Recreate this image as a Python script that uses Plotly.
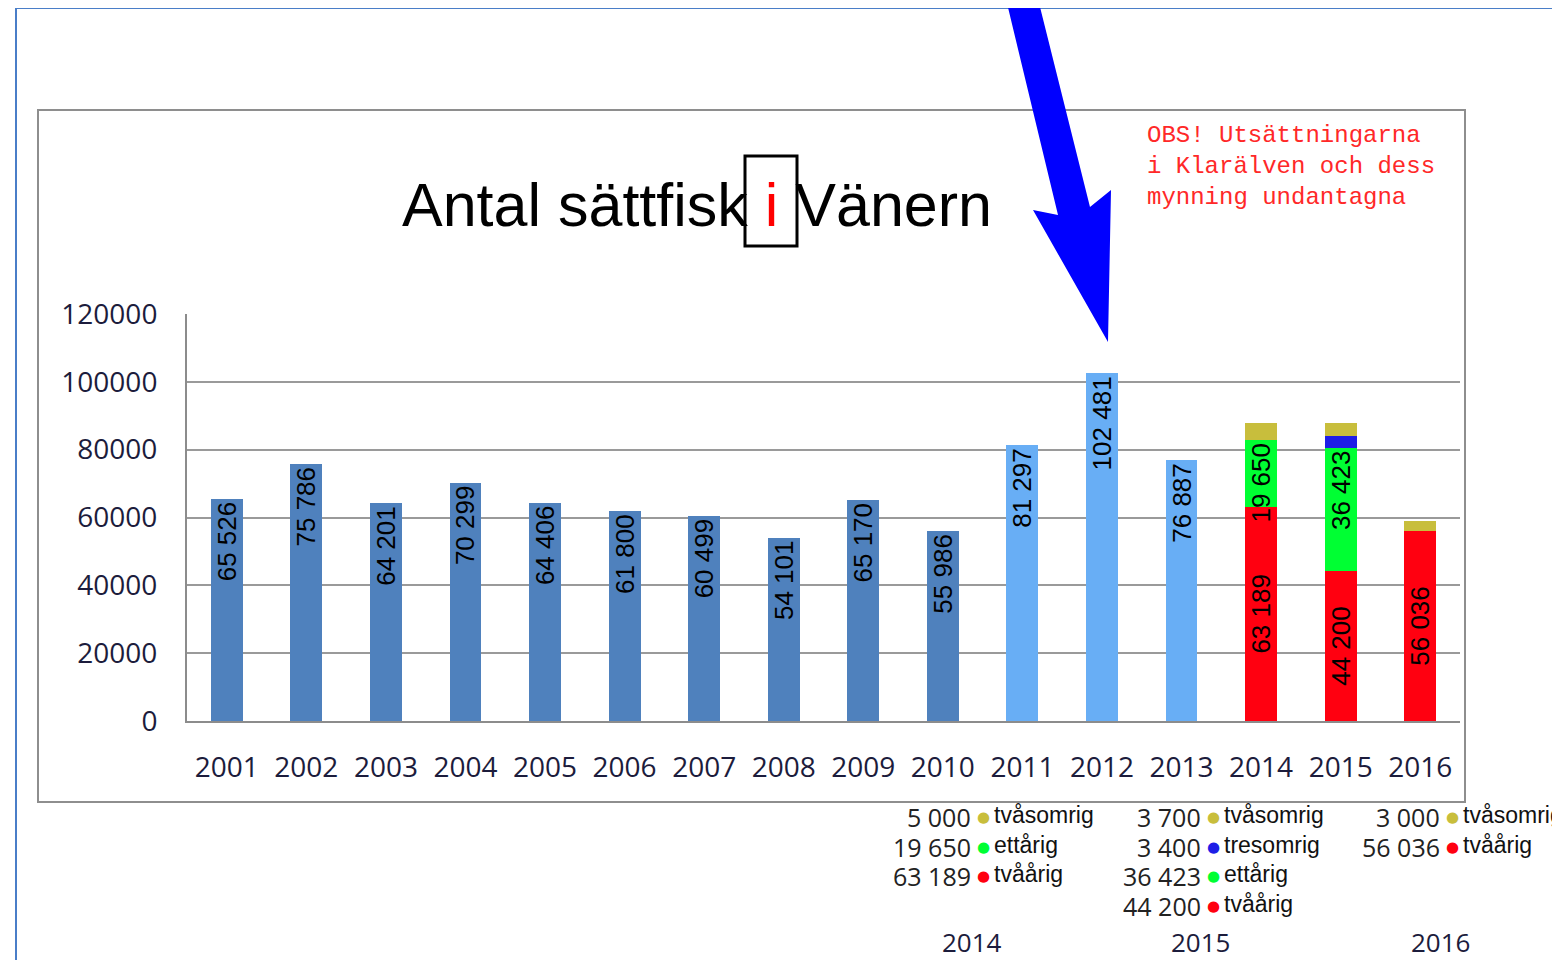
import plotly.graph_objects as go

# ---------------- data ----------------
years = ["2001", "2002", "2003", "2004", "2005", "2006", "2007", "2008",
         "2009", "2010", "2011", "2012", "2013", "2014", "2015", "2016"]
base_years = years[:13]
base_values = [65526, 75786, 64201, 70299, 64406, 61800, 60499, 54101,
               65170, 55986, 81297, 102481, 76887]
stack_years = ["2014", "2015", "2016"]
tvaarig = [63189, 44200, 56036]
ettarig = [19650, 36423, None]
tresomrig = [None, 3400, None]
tvasomrig = [5000, 3700, 3000]
y_ticks = [0, 20000, 40000, 60000, 80000, 100000, 120000]
title_before, title_mid, title_after = "Antal sättfisk", "i", "Vänern"
note_lines = ["OBS! Utsättningarna", "i Klarälven och dess", "mynning undantagna"]

# ---------------- styles ----------------
OFF = 8                      # page body margin
W, H = 1560 - OFF, 960 - OFF
DARK = "#4F81BD"
LIGHT = "#68AEF5"
RED = "#FF0010"
GREEN = "#00FF33"
BLUE = "#1E1EE6"
OLIVE = "#C8BE3C"
FONT = "Open Sans"


def px(x):
    return (x - OFF) / W


def py(y):
    return 1 - (y - OFF) / H


def fmt(v):
    return f"{v:,}".replace(",", " ")


fig = go.Figure()

base_colors = [DARK if int(y) <= 2010 else LIGHT for y in base_years]
fig.add_trace(go.Bar(
    x=base_years, y=base_values, marker=dict(color=base_colors, line_width=0),
    text=[fmt(v) for v in base_values], textposition="inside",
    insidetextanchor="end", textangle=-90, constraintext="none",
    insidetextfont=dict(family="Liberation Sans", size=26, color="black"),
    showlegend=False, name="Antal"))

series = [
    ("tvåårig", tvaarig, RED, "middle"),
    ("ettårig", ettarig, GREEN, "end"),
    ("tresomrig", tresomrig, BLUE, None),
    ("tvåsomrig", tvasomrig, OLIVE, None),
]
for name, vals, col, anchor in series:
    fig.add_trace(go.Bar(
        x=stack_years, y=vals, name=name, marker=dict(color=col, line_width=0),
        text=[fmt(v) if (v is not None and anchor) else "" for v in vals],
        textposition="inside", insidetextanchor=anchor or "middle", textangle=-90,
        constraintext="none",
        insidetextfont=dict(family="Liberation Sans", size=26, color="black"),
        showlegend=False))

annotations = []
# title
annotations.append(dict(
    x=px(697), y=py(205), xref="paper", yref="paper", xanchor="center",
    yanchor="middle", showarrow=False,
    text=f"{title_before} <span style='color:#FF0000'>{title_mid}</span> {title_after}",
    font=dict(family="Liberation Sans", size=61, color="black")))
# note
annotations.append(dict(
    x=px(1145), y=py(120), xref="paper", yref="paper", xanchor="left",
    yanchor="top", align="left", showarrow=False,
    text="<br>".join(note_lines),
    font=dict(family="Liberation Mono", size=24, color="#FF2828")))

# bottom value lists
groups = [
    (stack_years[0], 983, 972),
    (stack_years[1], 1213, 1200),
    (stack_years[2], 1452, 1440),
]
for gi, (yr, dot_x, yr_x) in enumerate(groups):
    row = 0
    for name, vals, col, _ in reversed(series):
        v = vals[gi]
        if v is None:
            continue
        yy = 817 + row * 29.5
        annotations.append(dict(
            x=px(dot_x - 11), y=py(yy), xref="paper", yref="paper",
            xanchor="right", yanchor="middle", showarrow=False, text=fmt(v),
            font=dict(family=FONT, size=25, color="#222222"), borderpad=0))
        annotations.append(dict(
            x=px(dot_x), y=py(yy), xref="paper", yref="paper",
            xanchor="center", yanchor="middle", showarrow=False, text="●",
            font=dict(family="DejaVu Sans", size=15, color=col), borderpad=0))
        annotations.append(dict(
            x=px(dot_x + 10), y=py(yy - 2), xref="paper", yref="paper",
            xanchor="left", yanchor="middle", showarrow=False, text=name,
            font=dict(family="Liberation Sans", size=23, color="#111111"),
            borderpad=0))
        row += 1
    annotations.append(dict(
        x=px(yr_x), y=py(942), xref="paper", yref="paper", xanchor="center",
        yanchor="middle", showarrow=False, text=yr,
        font=dict(family=FONT, size=26, color="#1C1C3C"), borderpad=0))

shapes = [
    # outer blue frame
    dict(type="rect", xref="paper", yref="paper", x0=px(16), x1=px(1620),
         y0=py(1010), y1=py(8), line=dict(color="#4A7EC8", width=2), layer="below"),
    # chart frame
    dict(type="rect", xref="paper", yref="paper", x0=px(38), x1=px(1465),
         y0=py(802), y1=py(110), line=dict(color="#8E8E8E", width=2), layer="below"),
    # box around "i"
    dict(type="rect", xref="paper", yref="paper", x0=px(745), x1=px(797),
         y0=py(246), y1=py(156), line=dict(color="black", width=3)),
]
arrow_pts = [(1005, -5), (1037, -5), (1090, 207), (1111, 190), (1108, 342),
             (1033, 210), (1058, 215)]
path = "M " + " L ".join(f"{px(x):.5f},{py(y):.5f}" for x, y in arrow_pts) + " Z"
shapes.append(dict(type="path", xref="paper", yref="paper", path=path,
                   fillcolor="#0000FF", line=dict(color="#0000FF", width=0)))

fig.update_layout(
    width=W, height=H, margin=dict(l=0, r=0, t=0, b=0),
    paper_bgcolor="white", plot_bgcolor="white",
    barmode="stack", bargap=0.6, showlegend=False,
    annotations=annotations, shapes=shapes,
    xaxis=dict(domain=[px(187), px(1460)], type="category",
               categoryorder="array", categoryarray=years, range=[-0.5, 15.5],
               showline=True, linecolor="#8C8C8C", linewidth=2, showgrid=False,
               ticks="", ticklabelstandoff=20, automargin=False,
               tickfont=dict(family=FONT, size=28, color="#1C1C3C")),
    yaxis=dict(domain=[py(721), py(314)], range=[0, 120000],
               tickvals=y_ticks, ticktext=[str(t) for t in y_ticks],
               showline=True, linecolor="#8C8C8C", linewidth=2,
               showgrid=True, gridcolor="#9A9A9A", gridwidth=1.5,
               zeroline=False, ticks="", ticklabelstandoff=22, automargin=False,
               tickfont=dict(family=FONT, size=28, color="#1C1C3C")),
)

fig.write_html("out.html")
